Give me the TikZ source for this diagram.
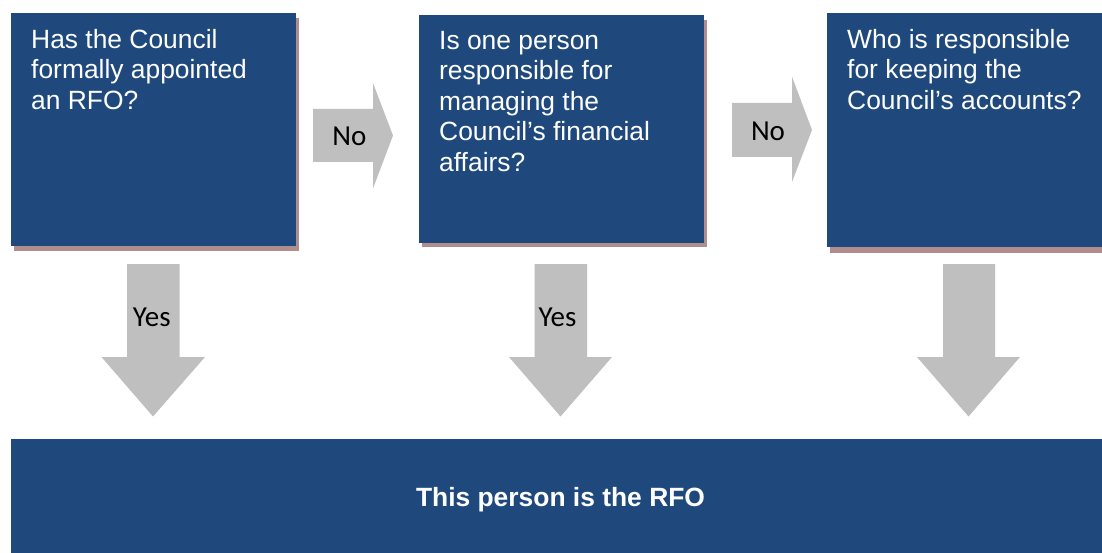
\documentclass[tikz,border=0pt]{standalone}
\usepackage{fontspec}
\setmainfont{Liberation Sans}
\newfontfamily\labelfont{Carlito}
\definecolor{boxblue}{RGB}{31,73,125}
\definecolor{shadowc}{RGB}{176,142,142}
\definecolor{arrowgray}{RGB}{191,191,191}
\begin{document}
\begin{tikzpicture}[x=1pt,y=-1pt,
  qbox/.style={fill=boxblue,draw=none,inner sep=0pt,anchor=north west},
  qshadow/.style={fill=shadowc,draw=none},
  qtext/.style={text=white,align=left,inner sep=0pt,anchor=north west,
     font=\fontsize{26.4}{30.5}\selectfont},
  bigarrow/.style={fill=arrowgray,draw=none},
  arrlabel/.style={text=black,inner sep=0pt,anchor=base,
     font=\labelfont\fontsize{29}{32}\selectfont}]
\useasboundingbox (0,0) rectangle (1102,553);
% question boxes with shadows
\fill[qshadow] (13.5,18) rectangle (299,251);
\node[qbox,minimum width=285pt,minimum height=233pt] (b1) at (11,13) {};
\fill[qshadow] (421.5,20) rectangle (706.5,247.5);
\node[qbox,minimum width=285pt,minimum height=228pt] (b2) at (419,15) {};
\fill[qshadow] (829.5,18) rectangle (1102,253);
\node[qbox,minimum width=275pt,minimum height=233.5pt] (b3) at (827,13) {};
% answer box
\node[qbox,minimum width=1091pt,minimum height=114pt] (b4) at (11,439) {};
% texts
\node[qtext] (t1) at (31,29) {Has the Council\\formally appointed\\an RFO?};
\node[qtext] (t2) at (439,31) {Is one person\\responsible for\\managing the\\Council’s financial\\affairs?};
\node[qtext] (t3) at (847,29) {Who is responsible\\for keeping the\\Council’s accounts?};
\node[text=white,inner sep=0pt,anchor=base,font=\fontsize{26.4}{30}\selectfont\bfseries] (t4) at (560.5,506.7) {This person is the RFO};
% right arrows
\coordinate (r1) at (313,109);
\fill[bigarrow] (r1) -- ++(60,0) -- ++(0,-26) -- ++(20,52.5) -- ++(-20,53) -- ++(0,-26.5) -- ++(-60,0) -- cycle;
\coordinate (r2) at (732,103);
\fill[bigarrow] (r2) -- ++(60,0) -- ++(0,-26.3) -- ++(20,53.3) -- ++(-20,52) -- ++(0,-25) -- ++(-60,0) -- cycle;
% down arrows
\coordinate (d1) at (127,264);
\fill[bigarrow] (d1) -- ++(52.5,0) -- ++(0,93) -- ++(25.5,0) -- ++(-52,59.5) -- ++(-51.5,-59.5) -- ++(25.5,0) -- cycle;
\coordinate (d2) at (534.5,264);
\fill[bigarrow] (d2) -- ++(52.5,0) -- ++(0,93) -- ++(25,0) -- ++(-51.5,59.5) -- ++(-51.5,-59.5) -- ++(25.5,0) -- cycle;
\coordinate (d3) at (943,264);
\fill[bigarrow] (d3) -- ++(52,0) -- ++(0,93) -- ++(25,0) -- ++(-51.5,59.5) -- ++(-51.5,-59.5) -- ++(26,0) -- cycle;
% labels
\node[arrlabel] (l1) at (349.5,146) {No};
\node[arrlabel] (l2) at (768,140.7) {No};
\node[arrlabel] (l3) at (151.7,326) {Yes};
\node[arrlabel] (l4) at (557.5,326) {Yes};
\end{tikzpicture}
\end{document}
